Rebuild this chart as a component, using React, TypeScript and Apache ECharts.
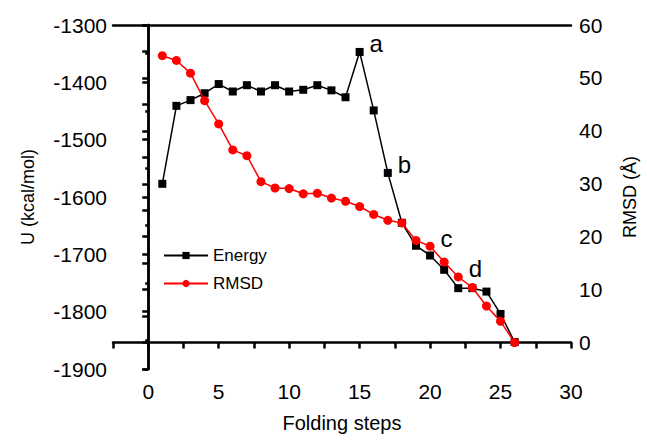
import React, { useEffect, useRef } from "react";
import * as echarts from "echarts";

const steps = [1, 2, 3, 4, 5, 6, 7, 8, 9, 10, 11, 12, 13, 14, 15, 16, 17, 18, 19, 20, 21, 22, 23, 24, 25, 26];
const energy = [-1577, -1441, -1431, -1419, -1403, -1416, -1405, -1416, -1405, -1416, -1413, -1405, -1414, -1426, -1347, -1449, -1558, -1645, -1685, -1702, -1727, -1759, -1759, -1765, -1804, -1853];
const rmsd = [54.2, 53.3, 50.9, 45.7, 41.3, 36.4, 35.3, 30.4, 29.2, 29.1, 28.1, 28.2, 27.3, 26.7, 25.7, 24.2, 23.1, 22.6, 19.3, 18.2, 15.2, 12.4, 10.4, 6.9, 4.0, 0];
const energyNotes: Record<number, string> = { 15: "a", 17: "b" };
const rmsdNotes: Record<number, string> = { 20: "c", 22: "d" };

const FONT = "'Liberation Sans', Arial, Helvetica, sans-serif";

export default function App() {
  const ref = useRef<HTMLDivElement>(null);
  useEffect(() => {
    if (!ref.current) return;
    const chart = echarts.init(ref.current, null, { renderer: "svg" });
    const noteLabel = (t: string) => ({
      show: true,
      position: "right",
      distance: 6,
      offset: [0, -8],
      formatter: () => t,
      fontSize: 24,
      color: "#000",
      fontFamily: FONT,
    });
    const eData = steps.map((s, i) =>
      energyNotes[s]
        ? { value: [s, energy[i]], label: noteLabel(energyNotes[s]) }
        : { value: [s, energy[i]] }
    );
    const rData = steps.map((s, i) =>
      rmsdNotes[s]
        ? { value: [s, rmsd[i]], label: noteLabel(rmsdNotes[s]) }
        : { value: [s, rmsd[i]] }
    );
    const axisLine = { show: true, lineStyle: { color: "#000", width: 2.5 } };
    chart.setOption({
      animation: false,
      backgroundColor: "#fff",
      textStyle: { fontFamily: FONT },
      grid: { left: 113, right: 75, top: 25, bottom: 71 },
      legend: {
        orient: "vertical",
        left: 158,
        top: 242,
        itemWidth: 44,
        itemHeight: 9,
        itemGap: 11,
        textStyle: { fontSize: 17, color: "#000", fontFamily: FONT },
        data: ["Energy", "RMSD"],
      },
      xAxis: [
        {
          type: "value",
          min: -2.5,
          max: 30,
          interval: 2.5,
          name: "Folding steps",
          nameLocation: "middle",
          nameGap: 44,
          nameTextStyle: { fontSize: 20, color: "#000", fontFamily: FONT },
          axisLine,
          axisTick: { show: true, inside: false, length: 6, lineStyle: { color: "#000", width: 2.5 } },
          axisLabel: {
            margin: 12,
            fontSize: 21,
            color: "#000",
            fontFamily: FONT,
            formatter: (v: number) => (Math.abs(v % 5) < 1e-9 ? String(v) : ""),
          },
          splitLine: { show: false },
        },
        {
          type: "value",
          position: "top",
          min: -2.5,
          max: 30,
          axisLine,
          axisTick: { show: false },
          axisLabel: { show: false },
          splitLine: { show: false },
        },
      ],
      yAxis: [
        {
          type: "value",
          min: -1900,
          max: -1300,
          interval: 100,
          name: "U (kcal/mol)",
          nameLocation: "middle",
          nameRotate: 90,
          nameGap: 76,
          nameTextStyle: { fontSize: 18, color: "#000", fontFamily: FONT },
          axisLine,
          axisTick: { show: true, length: 6, lineStyle: { color: "#000", width: 2.5 } },
          minorTick: { show: true, splitNumber: 2, length: 3, lineStyle: { color: "#000", width: 2.5 } },
          axisLabel: { margin: 6, fontSize: 21, color: "#000", fontFamily: FONT, formatter: (v: number) => String(v) },
          splitLine: { show: false },
          minorSplitLine: { show: false },
        },
        {
          type: "value",
          position: "right",
          min: -5,
          max: 60,
          interval: 5,
          name: "RMSD (Å)",
          nameLocation: "middle",
          nameRotate: 90,
          nameGap: 50,
          nameTextStyle: { fontSize: 18, color: "#000", fontFamily: FONT },
          axisLine,
          axisTick: { show: true, inside: true, length: 6, lineStyle: { color: "#000", width: 2.5 } },
          axisLabel: {
            margin: 8,
            fontSize: 21,
            color: "#000",
            fontFamily: FONT,
            formatter: (v: number) => (v >= 0 && v % 10 === 0 ? String(v) : ""),
          },
          splitLine: { show: false },
        },
      ],
      series: [
        {
          name: "Energy",
          type: "line",
          xAxisIndex: 0,
          yAxisIndex: 0,
          data: eData,
          symbol: "rect",
          symbolSize: 8,
          lineStyle: { color: "#000", width: 1.5 },
          itemStyle: { color: "#000" },
          z: 2,
        },
        {
          name: "RMSD",
          type: "line",
          xAxisIndex: 0,
          yAxisIndex: 1,
          data: rData,
          symbol: "circle",
          symbolSize: 9,
          lineStyle: { color: "#ff0000", width: 1.5 },
          itemStyle: { color: "#ff0000" },
          z: 3,
        },
      ],
    });
    return () => chart.dispose();
  }, []);
  return <div ref={ref} style={{ width: 647, height: 440, position: "absolute", left: 0, top: 0 }} />;
}
